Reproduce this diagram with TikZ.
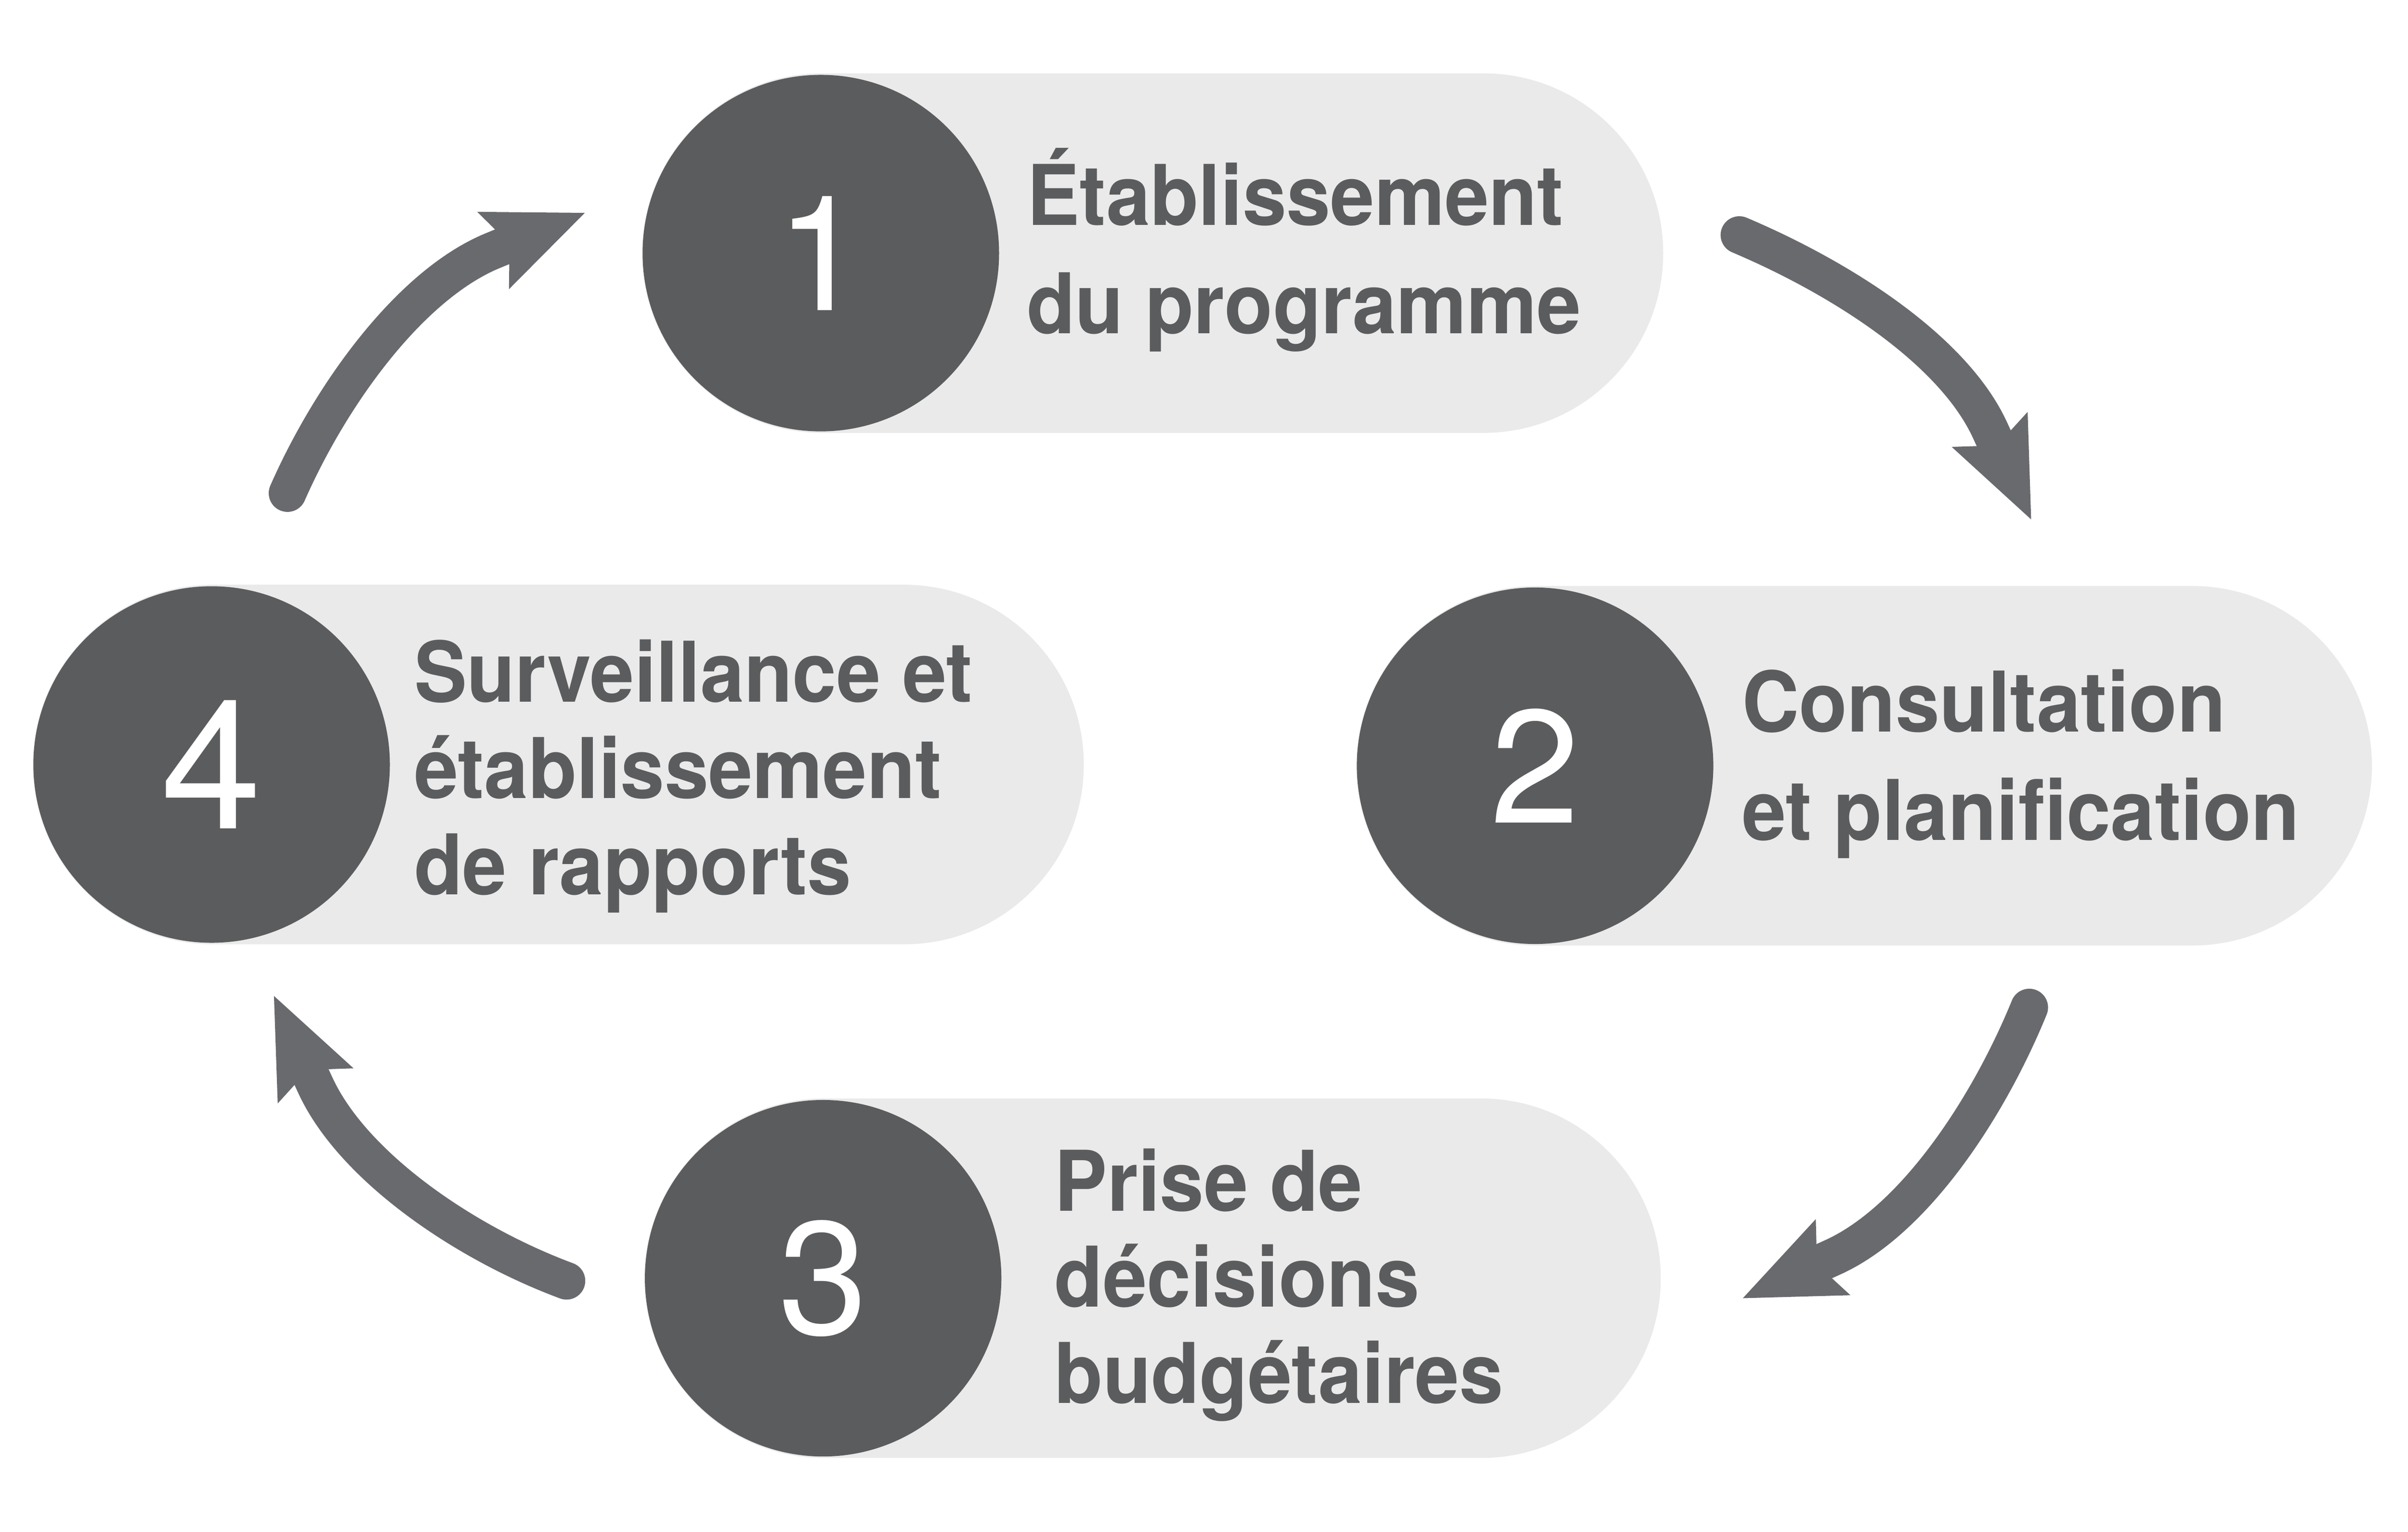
\documentclass[tikz,border=0pt]{standalone}
\usepackage{fontspec}
\setmainfont{TeX Gyre Heros}[FakeStretch=0.945]
\newfontfamily\numfont{TeX Gyre Heros}
\usetikzlibrary{arrows.meta}
\usetikzlibrary{positioning}
\definecolor{discgray}{HTML}{5B5C5E}
\definecolor{bandgray}{HTML}{EAEAEA}
\definecolor{flowgray}{HTML}{696A6E}
\newcommand{\stageband}[2]{\node(b#1)[band,minimum width=#2] at ([xshift=-1.17cm]c#1){}}
\newcommand{\stagedisc}[2]{\node(d#1)[disc] at (c#1){#2}}

\begin{document}
\begin{tikzpicture}[
        x=0.01cm, y=-0.01cm,
        band/.style={rectangle,fill=bandgray,minimum height=2.34cm,
                     rounded corners=1.17cm,inner sep=0,anchor=west},
        disc/.style={circle,fill=discgray,minimum size=2.32cm,inner sep=0,
                     text=white,font=\numfont\fontsize{29.8}{30}\selectfont},
        stagetext/.style={anchor=base west,align=left,inner sep=0,text=discgray,
                     font=\fontsize{15.5}{20.1}\selectfont\bfseries},
        stagetight/.style={stagetext,font=\fontsize{15.5}{17.8}\selectfont\bfseries},
        flow/.style={line width=0.244cm,draw=flowgray,line cap=round,
                     -{Stealth[length=0.645cm,width=0.544cm,inset=0.115cm,line width=0pt]}}
      ]
      \useasboundingbox (0,0) rectangle (1568,997.3);

      % centres of the four stages
      \coordinate (c1) at (534.5,164.8);
      \coordinate (c2) at (999.6,498.6);
      \coordinate (c3) at (536,832.3);
      \coordinate (c4) at (137.8,497.8);

      \stageband{1}{6.645cm};
      \stageband{2}{6.609cm};
      \stageband{3}{6.614cm};
      \stageband{4}{6.839cm};

      \stagedisc{1}{1};
      \stagedisc{2}{2};
      \stagedisc{3}{3};
      \node(d4)[disc,font=\numfont\fontsize{33.5}{34}\selectfont] at (c4){4};

      % anchored on the baseline of the last line
      \node(t1)[stagetext] at (668,217.3) {Établissement\\du programme};
      \node(t2)[stagetext] at (1133.6,547.2) {Consultation\\et planification};
      \node(t3)[stagetight] at (686,913.6) {Prise de\\décisions\\budgétaires};
      \node(t4)[stagetight] at (269,582.4) {Surveillance et\\établissement\\de rapports};

      % arrows of the cycle: start, back of the head, tip
      \coordinate (f1s) at (1132.6,153);  \coordinate (f1b) at (1295.6,279.6);  \coordinate (f1e) at (1322.6,338.2);
      \coordinate (f2s) at (1321.4,656);  \coordinate (f2b) at (1193.6,818.6);  \coordinate (f2e) at (1134.9,845.3);
      \coordinate (f3s) at (368.9,834);   \coordinate (f3b) at (205.5,707.0);   \coordinate (f3e) at (178.4,648.5);
      \coordinate (f4s) at (187.2,321.1); \coordinate (f4b) at (321.1,163.1);   \coordinate (f4e) at (380.8,138.6);

      \draw[flow] (f1s) .. controls (1198.0,180.7) and (1271.1,227.0) .. (f1b) -- (f1e);
      \draw[flow] (f2s) .. controls (1294.6,721.7) and (1246.4,794.6) .. (f2b) -- (f2e);
      \draw[flow] (f3s) .. controls (302.4,809.3) and (229.9,759.6) .. (f3b) -- (f3e);
      \draw[flow] (f4s) .. controls (215.8,256.1) and (267.4,185.1) .. (f4b) -- (f4e);
    \end{tikzpicture}
\end{document}
